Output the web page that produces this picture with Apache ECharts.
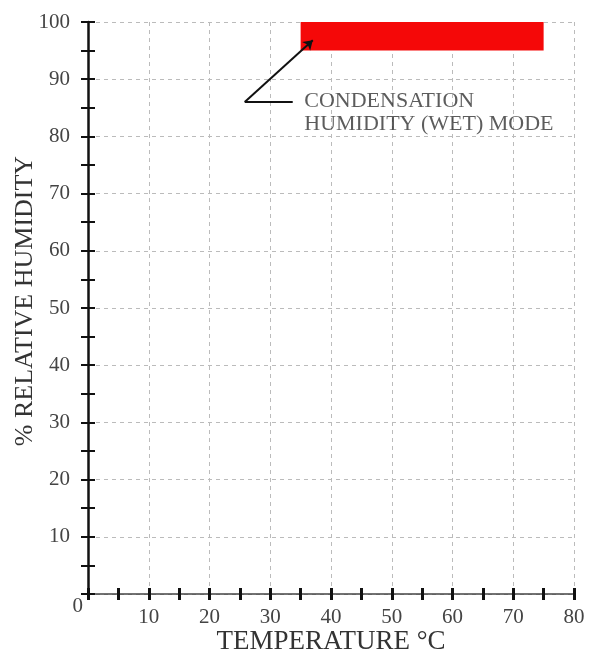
<!DOCTYPE html>
<html>
<head>
<meta charset="utf-8">
<script src="https://cdn.jsdelivr.net/npm/echarts@6/dist/echarts.min.js"></script>
<style>html,body{margin:0;padding:0;background:#fff}#c{width:590px;height:655px}</style>
</head>
<body>
<div id="c"></div>
<script>
// ---- data ----
const tempRange = [0, 80];          // °C
const rhRange = [0, 100];           // %
const wetTemp = [35, 75];           // condensation (wet) mode temperature span
const wetRH = [95, 100];            // condensation (wet) mode humidity span
const leaderPath = [[33.7, 86], [25.8, 86], [37, 96.8]]; // annotation leader line
const noteAnchor = [35.6, 86];
const noteLines = ['CONDENSATION', 'HUMIDITY (WET) MODE'];
const xName = 'TEMPERATURE °C';
const yName = '% RELATIVE HUMIDITY';

const FONT = 'Liberation Serif';
const chart = echarts.init(document.getElementById('c'));

const tickStyleY = { color: '#111', width: 2 };
const tickStyleX = { color: '#111', width: 3 };

chart.setOption({
  animation: false,
  backgroundColor: '#fff',
  grid: { left: 88, right: 16, top: 22, bottom: 61, containLabel: false, outerBoundsMode: 'none' },
  xAxis: [{
    type: 'value', min: tempRange[0], max: tempRange[1], interval: 10,
    name: xName, nameLocation: 'middle', nameGap: 34, nameMoveOverlap: false,
    nameTextStyle: { fontFamily: FONT, fontSize: 27, color: '#333' },
    axisLine: { show: true, lineStyle: { color: '#444', width: 1.5 } },
    axisTick: { show: true, length: 6, inside: false, lineStyle: tickStyleX },
    minorTick: { show: true, splitNumber: 2, length: 6, lineStyle: tickStyleX },
    axisLabel: { fontFamily: FONT, fontSize: 21, color: '#444', margin: 13,
      formatter: v => v === 0 ? '' : String(v) },
    splitLine: { show: true, lineStyle: { color: '#bbb', type: [4, 4], width: 1 } }
  }, {
    type: 'value', min: tempRange[0], max: tempRange[1], interval: 10, position: 'bottom',
    axisLine: { show: false },
    axisTick: { show: true, length: 6, inside: true, lineStyle: tickStyleX },
    minorTick: { show: true, splitNumber: 2, length: 6, lineStyle: tickStyleX },
    axisLabel: { show: false },
    splitLine: { show: false }
  }],
  yAxis: [{
    type: 'value', min: rhRange[0], max: rhRange[1], interval: 10,
    name: yName, nameLocation: 'middle', nameGap: 50, nameRotate: 90, nameMoveOverlap: false,
    nameTextStyle: { fontFamily: FONT, fontSize: 26, color: '#333', padding: [0, 0, 0, 14] },
    axisLine: { show: true, lineStyle: { color: '#111', width: 2.5 } },
    axisTick: { show: true, length: 7, inside: false, lineStyle: tickStyleY },
    minorTick: { show: true, splitNumber: 2, length: 7, lineStyle: tickStyleY },
    axisLabel: { fontFamily: FONT, fontSize: 21, color: '#444', margin: 18,
      formatter: v => v === 0 ? '' : String(v) },
    splitLine: { show: true, lineStyle: { color: '#bbb', type: [4, 4], width: 1 } }
  }, {
    type: 'value', min: rhRange[0], max: rhRange[1], interval: 10, position: 'left',
    axisLine: { show: false },
    axisTick: { show: true, length: 7, inside: true, lineStyle: tickStyleY },
    minorTick: { show: true, splitNumber: 2, length: 7, lineStyle: tickStyleY },
    axisLabel: { show: true, fontFamily: FONT, fontSize: 21, color: '#444', margin: 5,
      verticalAlign: 'top', padding: [2, 0, 0, 0], formatter: v => v === 0 ? '0' : '' },
    splitLine: { show: false }
  }],
  series: [{
    type: 'line', data: [], xAxisIndex: 0, yAxisIndex: 0,
    markArea: {
      silent: true,
      itemStyle: { color: '#f50808', opacity: 1 },
      data: [[{ coord: [wetTemp[0], wetRH[1]] }, { coord: [wetTemp[1], wetRH[0]] }]]
    },
    markLine: {
      silent: true, animation: false,
      lineStyle: { color: '#111', width: 2, type: 'solid' },
      label: { show: false },
      symbolSize: 9,
      data: [
        [{ coord: leaderPath[0], symbol: 'none' }, { coord: leaderPath[1], symbol: 'none' }],
        [{ coord: leaderPath[1], symbol: 'none' }, { coord: leaderPath[2], symbol: 'arrow' }]
      ]
    }
  }, {
    type: 'scatter', symbolSize: 0, silent: true,
    data: [noteAnchor],
    label: {
      show: true, position: 'right', distance: 0,
      formatter: noteLines.join('\n'),
      fontFamily: FONT, fontSize: 22, color: '#333', lineHeight: 23,
      align: 'left', verticalAlign: 'top', offset: [0, -12]
    }
  }]
});
</script>
</body>
</html>
